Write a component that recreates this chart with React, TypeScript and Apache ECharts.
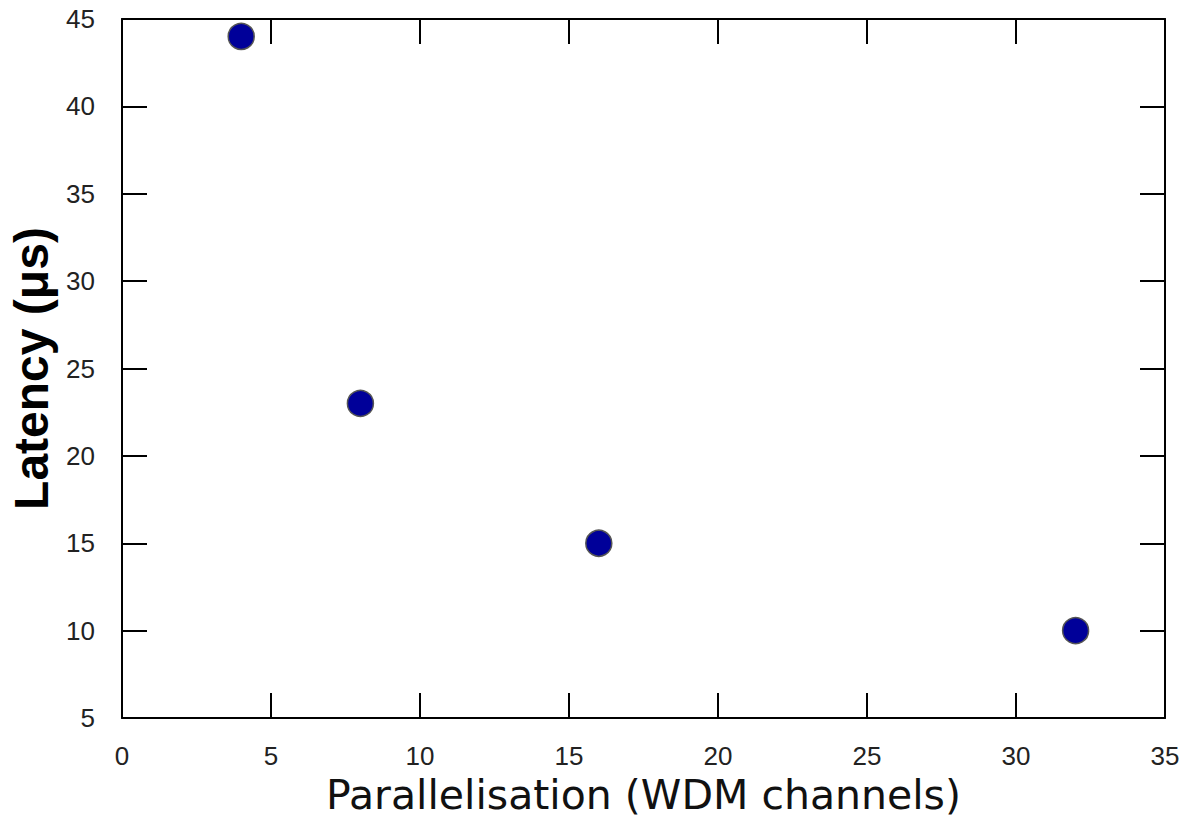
import React, { useEffect, useRef } from "react";
import * as echarts from "echarts";

const channels = [4, 8, 16, 32];
const latency = [44, 23, 15, 10];
const xTitle = "Parallelisation (WDM channels)";
const yTitle = "Latency (μs)";

export default function App() {
  const ref = useRef<HTMLDivElement>(null);
  useEffect(() => {
    const chart = echarts.init(ref.current!, null, { renderer: "svg" });
    const axisLine = { show: true, onZero: false, lineStyle: { color: "#000", width: 2 } };
    const tick = { show: true, inside: true, length: 25, lineStyle: { color: "#000", width: 2 } };
    const labelFont = { fontFamily: "Liberation Sans", fontSize: 26, color: "#222" };
    chart.setOption({
      animation: false,
      grid: { left: 122, right: 16, top: 19, bottom: 102, outerBoundsMode: "none", containLabel: false },
      xAxis: [
        {
          type: "value", position: "bottom", min: 0, max: 35, interval: 5,
          axisLine, axisTick: tick, splitLine: { show: false },
          axisLabel: { ...labelFont, margin: 25 },
          name: xTitle, nameLocation: "middle", nameGap: 56,
          nameTextStyle: { fontFamily: "DejaVu Sans", fontSize: 41, color: "#111" },
        },
        {
          type: "value", position: "top", min: 0, max: 35, interval: 5,
          axisLine, axisTick: tick, splitLine: { show: false }, axisLabel: { show: false },
        },
      ],
      yAxis: [
        {
          type: "value", position: "left", min: 5, max: 45, interval: 5,
          axisLine, axisTick: tick, splitLine: { show: false },
          axisLabel: { ...labelFont, margin: 27 },
          name: yTitle, nameLocation: "middle", nameGap: 54,
          nameTextStyle: { fontFamily: "Liberation Sans", fontSize: 48, fontWeight: "bold", color: "#000" },
        },
        {
          type: "value", position: "right", min: 5, max: 45, interval: 5,
          axisLine, axisTick: tick, splitLine: { show: false }, axisLabel: { show: false },
        },
      ],
      series: [
        {
          type: "scatter",
          data: channels.map((c, i) => [c, latency[i]]),
          symbol: "circle",
          symbolSize: 26,
          itemStyle: { color: "#000099", borderColor: "#555", borderWidth: 1.5, opacity: 1 },
        },
      ],
    });
    return () => chart.dispose();
  }, []);
  return (
    <div
      ref={ref}
      style={{ position: "absolute", left: 0, top: 0, width: 1181, height: 820, background: "#fff" }}
    />
  );
}
